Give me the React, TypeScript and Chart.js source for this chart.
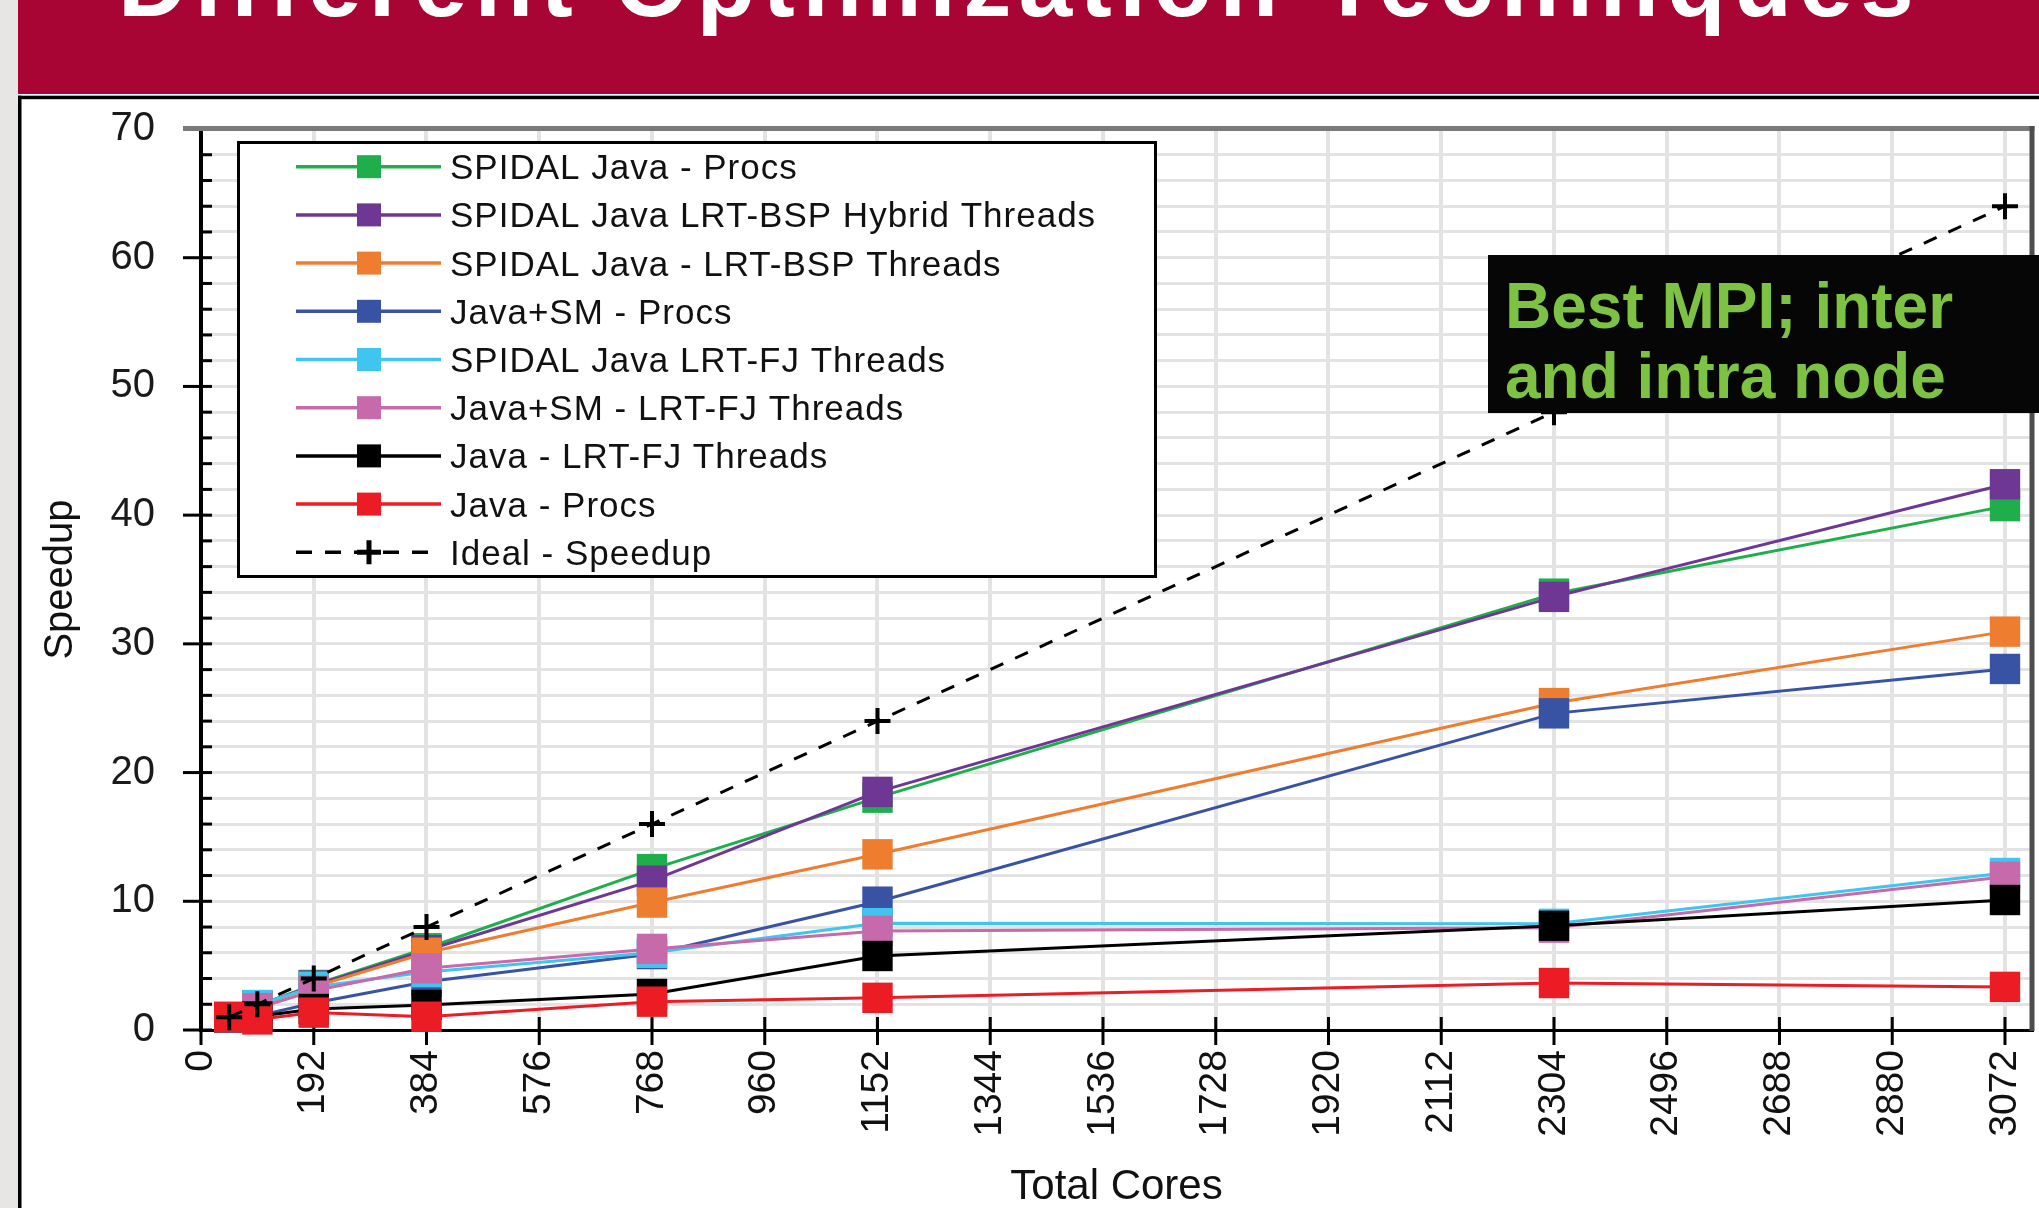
import React, { useEffect, useRef } from 'react';
import { Chart, registerables } from 'chart.js';

Chart.register(...registerables);

const W = 2039;
const H = 1208;
const FONT = '"Liberation Sans", Arial, sans-serif';

// ---- texts ----
const TITLE = 'Different Optimization Techniques';
const NOTE_LINES = ['Best MPI; inter', 'and intra node'];
const X_TITLE = 'Total Cores';
const Y_TITLE = 'Speedup';

// ---- axes ----
const X_MAX = 3118;
const X_TICKS = [0, 192, 384, 576, 768, 960, 1152, 1344, 1536, 1728, 1920, 2112, 2304, 2496, 2688, 2880, 3072];
const X_TICK_LABELS = ['0', '192', '384', '576', '768', '960', '1152', '1344', '1536', '1728', '1920', '2112', '2304', '2496', '2688', '2880', '3072'];
const Y_MAX = 70;
const Y_GRID_STEP = 2;
const Y_LABEL_VALUES = [0, 10, 20, 30, 40, 50, 60, 70];
const Y_TICK_LABELS = ['0', '10', '20', '30', '40', '50', '60', '70'];

// ---- data ----
const CORES = [48, 96, 192, 384, 768, 1152, 2304, 3072];
const SERIES_NAMES = [
  'SPIDAL Java - Procs',
  'SPIDAL Java LRT-BSP Hybrid Threads',
  'SPIDAL Java - LRT-BSP Threads',
  'Java+SM - Procs',
  'SPIDAL Java LRT-FJ Threads',
  'Java+SM - LRT-FJ Threads',
  'Java - LRT-FJ Threads',
  'Java - Procs',
  'Ideal - Speedup',
];
const SPIDAL_PROCS = [1, 1.9, 3.5, 6.35, 12.5, 18.05, 33.9, 40.7];
const SPIDAL_BSP_HYBRID = [1, 1.9, 3.45, 6.2, 11.6, 18.5, 33.65, 42.4];
const SPIDAL_BSP_THREADS = [1, 1.85, 3.35, 6.0, 9.9, 13.65, 25.4, 30.95];
const JAVA_SM_PROCS = [1, 1.1, 2.1, 3.75, 5.9, 9.97, 24.6, 28.05];
const SPIDAL_FJ_THREADS = [1, 1.94, 3.35, 4.5, 6.0, 8.3, 8.25, 12.2];
const JAVA_SM_FJ_THREADS = [1, 1.7, 3.05, 4.8, 6.3, 7.7, 7.95, 11.9];
const JAVA_FJ_THREADS = [1, 1.05, 1.63, 1.95, 2.8, 5.75, 8.1, 10.1];
const JAVA_PROCS = [1, 0.82, 1.35, 1.03, 2.2, 2.5, 3.65, 3.35];
const IDEAL = [1, 2, 4, 8, 16, 24, 48, 64];

const SERIES_VALUES = [
  SPIDAL_PROCS,
  SPIDAL_BSP_HYBRID,
  SPIDAL_BSP_THREADS,
  JAVA_SM_PROCS,
  SPIDAL_FJ_THREADS,
  JAVA_SM_FJ_THREADS,
  JAVA_FJ_THREADS,
  JAVA_PROCS,
  IDEAL,
];
const SERIES_COLORS = ['#1fae4b', '#6d3793', '#ef7d30', '#3953a4', '#3fc5f0', '#c76aab', '#000000', '#ec1c24', '#000000'];

// ---- styling constants ----
const HEADER_COLOR = '#a80534';
const NOTE_GREEN = '#7dc242';

const slidePlugin = {
  id: 'slideBackground',
  beforeDraw(chart: any) {
    const ctx = chart.ctx;
    ctx.save();
    ctx.fillStyle = '#ffffff';
    ctx.fillRect(0, 0, W, H);
    ctx.fillStyle = '#e8e6e4';
    ctx.fillRect(0, 0, 18, H);
    ctx.fillStyle = HEADER_COLOR;
    ctx.fillRect(18, 0, W - 18, 94);
    ctx.fillStyle = '#ffffff';
    ctx.font = `bold 96px ${FONT}`;
    ctx.textBaseline = 'alphabetic';
    ctx.textAlign = 'left';
    (ctx as any).letterSpacing = '7.5px';
    ctx.fillText(TITLE, 118, 16);
    (ctx as any).letterSpacing = '0px';
    ctx.fillStyle = '#000000';
    ctx.fillRect(18, 95.7, W - 18, 3.5);
    ctx.fillRect(18, 95.7, 3.5, H);
    ctx.restore();
  },
};

const axisDecorPlugin = {
  id: 'axisDecor',
  beforeDatasetsDraw(chart: any) {
    const ctx = chart.ctx;
    const xs = chart.scales.x;
    const ys = chart.scales.y;
    const area = chart.chartArea;
    ctx.save();
    // top & right frame
    ctx.fillStyle = '#7a7a7a';
    ctx.fillRect(183, area.top - 3, area.right + 2.5 - 183, 5);
    ctx.fillStyle = '#4d4d4d';
    ctx.fillRect(area.right - 2.5, area.top - 3, 5, area.bottom - area.top + 4);
    // tick marks
    ctx.fillStyle = '#000000';
    X_TICKS.forEach((v) => {
      const px = xs.getPixelForValue(v);
      ctx.fillRect(px - 1.5, area.bottom - 13, 3, 28);
    });
    for (let v = 0; v < Y_MAX; v += Y_GRID_STEP) {
      const py = ys.getPixelForValue(v);
      if (Y_LABEL_VALUES.indexOf(v) >= 0) ctx.fillRect(183, py - 1.5, 29, 3);
      else ctx.fillRect(area.left, py - 1.5, 11, 3);
    }
    ctx.restore();
  },
};

const legendPlugin = {
  id: 'boxLegend',
  afterDatasetsDraw(chart: any) {
    const ctx = chart.ctx;
    ctx.save();
    ctx.fillStyle = '#ffffff';
    ctx.fillRect(237, 141, 920, 437);
    ctx.strokeStyle = '#000000';
    ctx.lineWidth = 3;
    ctx.setLineDash([]);
    ctx.strokeRect(238.5, 142.5, 917, 434);
    chart.data.datasets.forEach((ds: any, i: number) => {
      const cy = 166.7 + i * 48.2;
      const color = ds.borderColor;
      ctx.strokeStyle = color;
      ctx.lineWidth = 3.5;
      ctx.setLineDash(ds.borderDash ? [16, 13] : []);
      ctx.beginPath();
      ctx.moveTo(296, cy);
      ctx.lineTo(441, cy);
      ctx.stroke();
      ctx.setLineDash([]);
      if (ds.pointStyle === 'cross') {
        ctx.lineWidth = 5;
        ctx.beginPath();
        ctx.moveTo(369, cy - 12);
        ctx.lineTo(369, cy + 12);
        ctx.moveTo(357, cy);
        ctx.lineTo(381, cy);
        ctx.stroke();
      } else {
        ctx.fillStyle = color;
        ctx.fillRect(357, cy - 11.5, 24, 23);
      }
      ctx.fillStyle = '#111111';
      ctx.font = `35px ${FONT}`;
      ctx.textBaseline = 'alphabetic';
      ctx.textAlign = 'left';
      (ctx as any).letterSpacing = '1px';
      ctx.fillText(ds.label, 450, cy + 12.5);
      (ctx as any).letterSpacing = '0px';
    });
    ctx.restore();
  },
};

const notePlugin = {
  id: 'noteBox',
  afterDraw(chart: any) {
    const ctx = chart.ctx;
    ctx.save();
    ctx.fillStyle = '#060606';
    ctx.fillRect(1488, 255, W - 1488, 158);
    ctx.fillStyle = NOTE_GREEN;
    ctx.font = `bold 64px ${FONT}`;
    ctx.textBaseline = 'alphabetic';
    ctx.textAlign = 'left';
    ctx.fillText(NOTE_LINES[0], 1505, 328);
    ctx.fillText(NOTE_LINES[1], 1505, 398);
    ctx.restore();
  },
};

export default function App() {
  const ref = useRef<HTMLCanvasElement>(null);

  useEffect(() => {
    document.body.style.margin = '0';
    document.body.style.overflow = 'hidden';
    const n = SERIES_NAMES.length;
    const datasets = SERIES_NAMES.map((name, i) => {
      const color = SERIES_COLORS[i];
      const isIdeal = i === n - 1;
      return {
        label: name,
        data: CORES.map((x, k) => ({ x, y: SERIES_VALUES[i][k] })),
        borderColor: color,
        backgroundColor: color,
        borderWidth: 3,
        borderDash: isIdeal ? [14, 13] : undefined,
        pointStyle: isIdeal ? 'cross' : 'rect',
        pointRadius: isIdeal ? 13 : 21.5,
        pointBackgroundColor: color,
        pointBorderColor: color,
        pointBorderWidth: isIdeal ? 4 : 0,
        tension: 0,
        clip: false,
        order: n - i,
      };
    });

    const chart = new Chart(ref.current as HTMLCanvasElement, {
      type: 'line',
      data: { datasets } as any,
      options: {
        responsive: false,
        animation: false,
        devicePixelRatio: 1,
        events: [],
        layout: { autoPadding: false, padding: { top: 129, right: 7, bottom: 0, left: 0 } },
        plugins: {
          legend: { display: false },
          tooltip: { enabled: false },
        },
        scales: {
          x: {
            type: 'linear',
            min: 0,
            max: X_MAX,
            afterBuildTicks: (s: any) => {
              s.ticks = X_TICKS.map((v) => ({ value: v }));
            },
            afterFit: (s: any) => {
              s.height = H - 1030;
              s.paddingLeft = 0;
              s.paddingRight = 0;
            },
            ticks: {
              autoSkip: false,
              minRotation: 90,
              maxRotation: 90,
              padding: 20,
              color: '#111111',
              font: { family: FONT, size: 39 },
              callback: (_v: any, idx: number) => X_TICK_LABELS[idx],
            },
            grid: { color: '#e3e3e3', lineWidth: 4, drawTicks: false },
            border: { color: '#000000', width: 3 },
            title: {
              display: true,
              text: X_TITLE,
              color: '#111111',
              font: { family: FONT, size: 42, lineHeight: 1 },
              padding: { top: 0, bottom: 0 },
            },
          },
          y: {
            type: 'linear',
            min: 0,
            max: Y_MAX,
            afterBuildTicks: (s: any) => {
              const t: any[] = [];
              for (let v = 0; v <= Y_MAX; v += Y_GRID_STEP) t.push({ value: v });
              s.ticks = t;
            },
            afterFit: (s: any) => {
              s.width = 201;
              s.paddingTop = 0;
              s.paddingBottom = 0;
            },
            ticks: {
              autoSkip: false,
              padding: 46,
              color: '#1a1a1a',
              font: { family: FONT, size: 40 },
              callback: (v: any) => {
                const k = Y_LABEL_VALUES.indexOf(Number(v));
                return k >= 0 ? Y_TICK_LABELS[k] : '';
              },
            },
            grid: { color: '#e3e3e3', lineWidth: 3, drawTicks: false },
            border: { color: '#000000', width: 4 },
            title: {
              display: true,
              text: Y_TITLE,
              color: '#111111',
              font: { family: FONT, size: 40, lineHeight: 1 },
              padding: { top: 41, bottom: 0 },
            },
          },
        },
      } as any,
      plugins: [slidePlugin, axisDecorPlugin, legendPlugin, notePlugin],
    });
    return () => chart.destroy();
  }, []);

  return (
    <div style={{ width: W, height: H, position: 'relative', overflow: 'hidden' }}>
      <canvas ref={ref} width={W} height={H} style={{ display: 'block', width: W, height: H }} />
    </div>
  );
}
